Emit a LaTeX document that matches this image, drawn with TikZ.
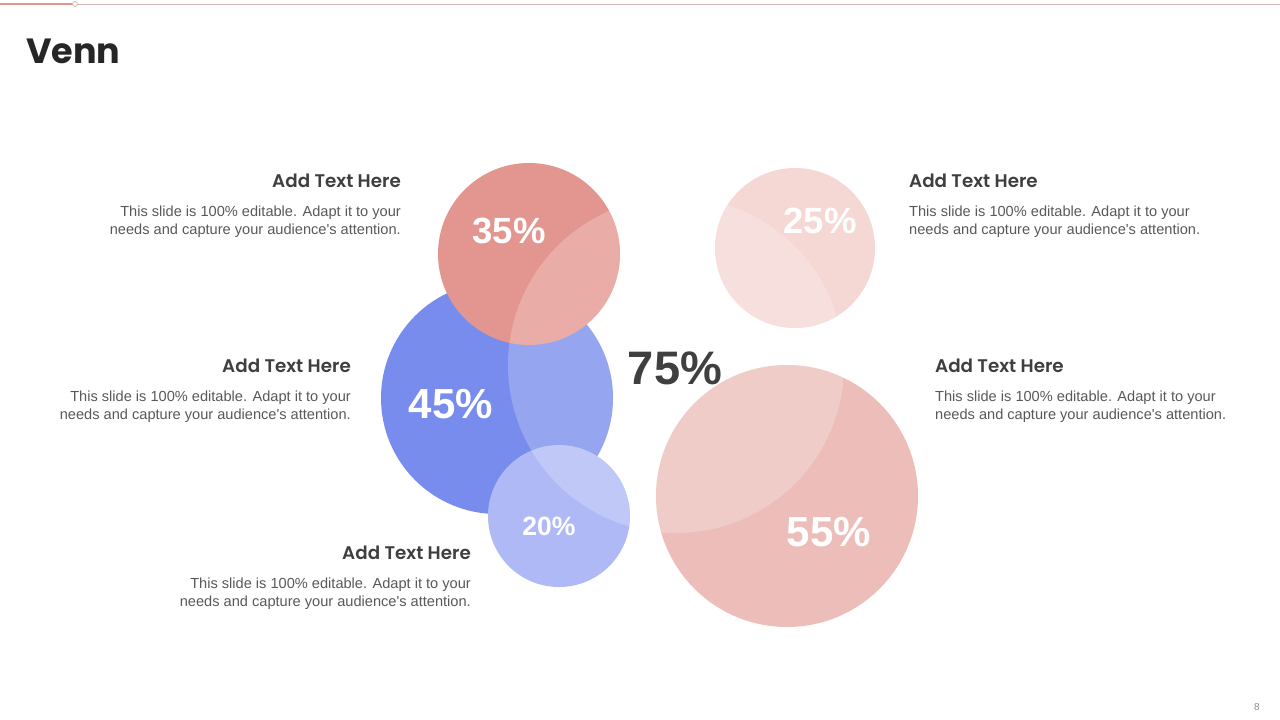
\documentclass[tikz,border=0pt]{standalone}
\usepackage{fontspec}
\setmainfont{Liberation Sans}
\newfontfamily\headfont{Poppins}[BoldFont={Poppins SemiBold}]
\newfontfamily\titlefont{Poppins}
\usetikzlibrary{positioning}

\definecolor{salmon}{HTML}{E3958F}
\definecolor{royal}{HTML}{788CED}
\definecolor{periwinkle}{HTML}{AFB9F6}
\definecolor{blush}{HTML}{F5D7D4}
\definecolor{rosy}{HTML}{EDBEB9}
\definecolor{headgray}{HTML}{3F3F3F}
\definecolor{bodygray}{HTML}{595959}
\definecolor{rulegray}{HTML}{D8B9B5}
\tikzstyle{bubble} = [circle, inner sep=0pt, outer sep=0pt, draw=none]

\begin{document}
\begin{tikzpicture}[x=1pt,y=-1pt,
			pct/.style={text=white,inner sep=0pt,font=\fontsize{#1}{#1}\selectfont\bfseries},
			head/.style={text=headgray,inner sep=0pt,font=\headfont\fontsize{18.3}{18.3}\selectfont\bfseries},
			body/.style={text=bodygray,inner sep=0pt,font=\fontsize{14.6}{18}\selectfont}]
			\useasboundingbox[fill=white] (0,0) rectangle (1280,720);
			% top rule
			\coordinate (r0) at (0,4);
			\coordinate (r1) at (1280,4);
			\coordinate (r2) at (73,4);
			\draw [rulegray,line width=1pt] (r0) -- (r1);
			\draw [salmon,line width=2.2pt] (r0) -- (r2);
			\node (knob) [circle,draw=rulegray,fill=white,line width=0.8pt,inner sep=0pt,minimum size=5] at (75,4) {};
			\node (title) [anchor=base west,inner sep=0pt,text=black!85,font=\titlefont\fontsize{35}{35}\selectfont\bfseries] at (26,63) {Venn};
			\node (page) [text=black!45,inner sep=0pt,font=\fontsize{10}{10}\selectfont] at (1257,707) {8};
			% circles
			\node (c45) [bubble,fill=royal,minimum size=232] at (497,398) {};
			\node (c35) [bubble,fill=salmon,minimum size=182] at (529,254) {};
			\node (c20) [bubble,fill=periwinkle,minimum size=142] at (559,516) {};
			\node (c25) [bubble,fill=blush,minimum size=160] at (795,248) {};
			\node (c55) [bubble,fill=rosy,minimum size=262] at (787,496) {};
			\begin{scope}
				\clip (497,398) circle (116) (529,254) circle (91) (559,516) circle (71)
				(795,248) circle (80) (787,496) circle (131);
				\fill [white,opacity=0.22] (676,365) circle (168);
			\end{scope}
			% values
			\node (p35) [pct=36.5] at (509,231) {35\%};
			\node (p45) [pct=42] at (451,404) {45\%};
			\node (p20) [pct=26.5] at (549,526) {20\%};
			\node (p25) [pct=36.5] at (820,221) {25\%};
			\node (p55) [pct=42] at (829,532) {55\%};
			\node (p75) [pct=47,text=headgray] at (675,368) {75\%};
			% text blocks
			\node (h1) [head,anchor=base east] at (401,187) {Add Text Here};
			\node (t1) [body,align=right,below left=19pt and 0pt of h1.base east] {This slide is 100\% editable.  Adapt it to your\\needs and capture your audience\textquotesingle s attention.};
			\node (h2) [head,anchor=base east] at (351,372) {Add Text Here};
			\node (t2) [body,align=right,below left=19pt and 0pt of h2.base east] {This slide is 100\% editable.  Adapt it to your\\needs and capture your audience\textquotesingle s attention.};
			\node (h3) [head,anchor=base east] at (471,559) {Add Text Here};
			\node (t3) [body,align=right,below left=19pt and 0pt of h3.base east] {This slide is 100\% editable.  Adapt it to your\\needs and capture your audience\textquotesingle s attention.};
			\node (h4) [head,anchor=base west] at (909,187) {Add Text Here};
			\node (t4) [body,align=left,below right=19pt and 0pt of h4.base west] {This slide is 100\% editable.  Adapt it to your\\needs and capture your audience\textquotesingle s attention.};
			\node (h5) [head,anchor=base west] at (935,372) {Add Text Here};
			\node (t5) [body,align=left,below right=19pt and 0pt of h5.base west] {This slide is 100\% editable.  Adapt it to your\\needs and capture your audience\textquotesingle s attention.};
		\end{tikzpicture}
\end{document}
